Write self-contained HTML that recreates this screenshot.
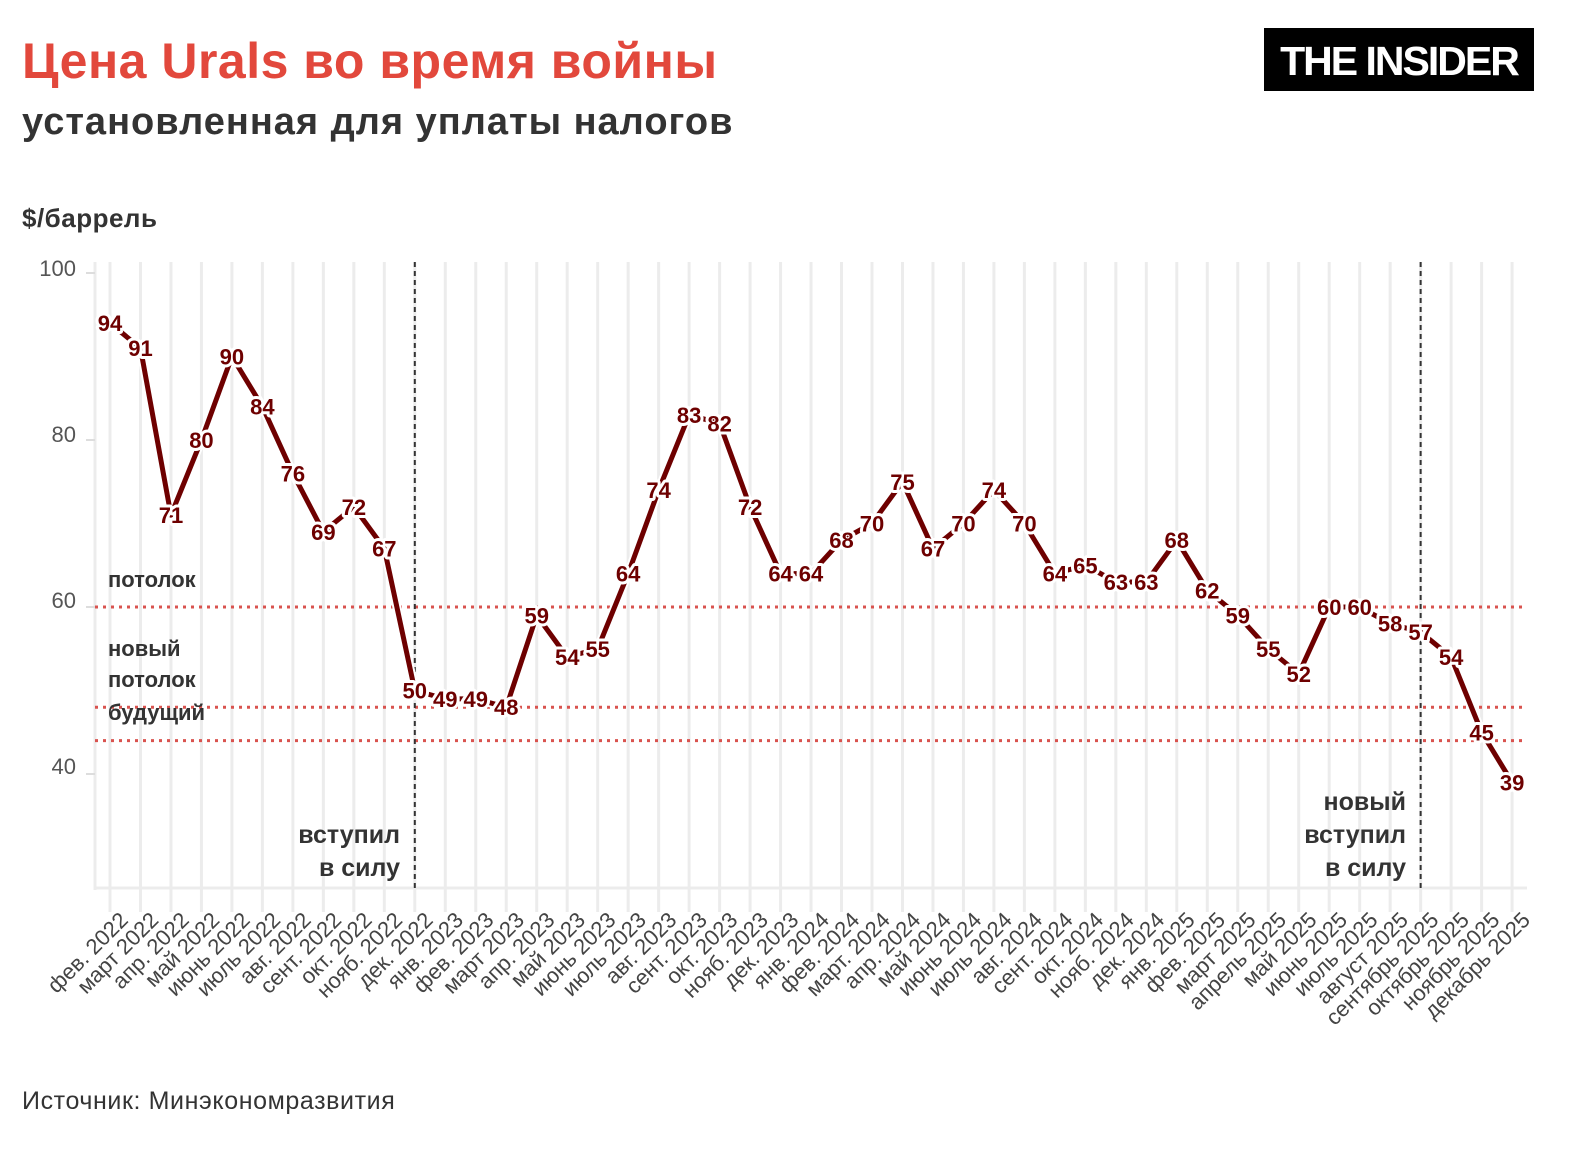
<!DOCTYPE html>
<html><head><meta charset="utf-8"><style>
body{margin:0;background:#fff;width:1588px;height:1150px;overflow:hidden;font-family:"Liberation Sans","DejaVu Sans",sans-serif}
</style></head><body>
<svg width="1588" height="1150" viewBox="0 0 1588 1150" xmlns="http://www.w3.org/2000/svg" font-family="Liberation Sans, DejaVu Sans, sans-serif">
<text x="22" y="78" font-size="50" font-weight="bold" fill="#e2483c" letter-spacing="0.5">Цена Urals во время войны</text>
<text x="22" y="134" font-size="38" font-weight="bold" fill="#333" letter-spacing="1">установленная для уплаты налогов</text>
<rect x="1264" y="28" width="270" height="63" fill="#000"/>
<text x="1399" y="75" font-size="41" font-weight="bold" fill="#fff" text-anchor="middle" letter-spacing="-2">THE INSIDER</text>
<text x="22" y="227" font-size="26" font-weight="bold" fill="#333" letter-spacing="0.5">$/баррель</text>
<text x="22" y="1109" font-size="25" fill="#333" letter-spacing="0.6">Источник: Минэкономразвития</text>
<g id="g"></g>
</svg>
<script>
const NS="http://www.w3.org/2000/svg";
const g=document.getElementById('g');
function el(t,a,txt){const e=document.createElementNS(NS,t);for(const k in a)e.setAttribute(k,a[k]);if(txt!==undefined)e.textContent=txt;g.appendChild(e);return e;}
const d=[94,91,71,80,90,84,76,69,72,67,50,49,49,48,59,54,55,64,74,83,82,72,64,64,68,70,75,67,70,74,70,64,65,63,63,68,62,59,55,52,60,60,58,57,54,45,39];
const L=["фев. 2022","март 2022","апр. 2022","май 2022","июнь 2022","июль 2022","авг. 2022","сент. 2022","окт. 2022","нояб. 2022","дек. 2022","янв. 2023","фев. 2023","март 2023","апр. 2023","май 2023","июнь 2023","июль 2023","авг. 2023","сент. 2023","окт. 2023","нояб. 2023","дек. 2023","янв. 2024","фев. 2024","март. 2024","апр. 2024","май 2024","июнь 2024","июль 2024","авг. 2024","сент. 2024","окт. 2024","нояб. 2024","дек. 2024","янв. 2025","фев. 2025","март 2025","апрель 2025","май 2025","июнь 2025","июль 2025","август 2025","сентябрь 2025","октябрь 2025","ноябрь 2025","декабрь 2025"];
const X=i=>110+i*30.48, Y=v=>607+(60-v)*8.35;
for(let i=0;i<47;i++){el('line',{x1:X(i),x2:X(i),y1:262,y2:912,stroke:'#ececec','stroke-width':3});
 const t=el('text',{x:X(i)+8,y:910,'font-size':22,fill:'#444','text-anchor':'end',transform:`rotate(-45 ${X(i)+8} 910)`},L[i]);t.setAttribute('dominant-baseline','hanging');}
el('line',{x1:95,x2:95,y1:262,y2:890,stroke:'#ececec','stroke-width':3});
el('line',{x1:95,x2:1527,y1:888,y2:888,stroke:'#ececec','stroke-width':3});
[[100,276],[80,442],[60,608],[40,774]].forEach(([v,y])=>{el('text',{x:76,y:y,'font-size':22,fill:'#555','text-anchor':'end'},v);el('line',{x1:86,x2:95,y1:Y(v),y2:Y(v),stroke:'#ddd','stroke-width':2});});
[60,48,44].forEach(v=>el('line',{x1:95,x2:1527,y1:Y(v),y2:Y(v),stroke:'#d9534f','stroke-width':3,'stroke-dasharray':'3 5'}));
[10,43].forEach(i=>el('line',{x1:X(i),x2:X(i),y1:262,y2:888,stroke:'#333','stroke-width':2,'stroke-dasharray':'5 4'}));
const b={'font-size':22,'font-weight':'bold',fill:'#333'};
el('text',{...b,x:108,y:587},'потолок');el('text',{...b,x:108,y:656},'новый');el('text',{...b,x:108,y:687},'потолок');el('text',{...b,x:108,y:720},'будущий');
const r={'font-size':25,'font-weight':'bold',fill:'#333','text-anchor':'end'};
el('text',{...r,x:400,y:843},'вступил');el('text',{...r,x:400,y:876},'в силу');
el('text',{...r,x:1406,y:810},'новый');el('text',{...r,x:1406,y:843},'вступил');el('text',{...r,x:1406,y:876},'в силу');
const pts=d.map((v,i)=>X(i)+','+Y(v)).join(' ');
el('polyline',{points:pts,fill:'none',stroke:'#fff','stroke-width':9,'stroke-linejoin':'round'});
el('polyline',{points:pts,fill:'none',stroke:'#6e0000','stroke-width':5,'stroke-linejoin':'round'});
d.forEach((v,i)=>{const a={x:X(i),y:Y(v)+8,'font-size':22,'font-weight':'bold','text-anchor':'middle'};
 el('text',{...a,fill:'#fff',stroke:'#fff','stroke-width':6,'stroke-linejoin':'round'},v);el('text',{...a,fill:'#6e0000'},v);});
</script>
</body></html>
